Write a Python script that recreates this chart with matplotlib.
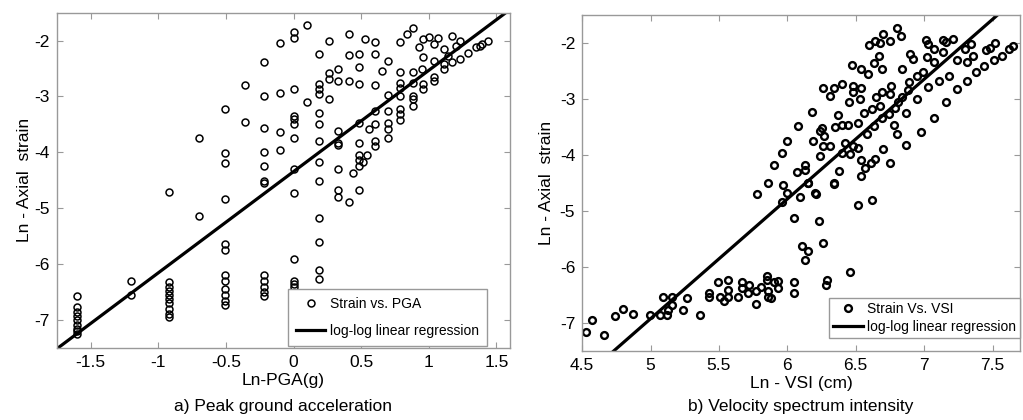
import matplotlib.pyplot as plt
import numpy as np

plt.rcParams['font.family'] = ['Liberation Sans', 'DejaVu Sans']
plt.rcParams['axes.unicode_minus'] = False

# a) Ln-PGA(g) vs Ln axial strain, one line per PGA column
pga_x = [-1.6]*9 + [-1.2]*2 + [-0.92]*10 + [-0.70]*2 + [-0.51]*12 + [-0.36]*2 + [-0.22]*12 + [-0.10]*4 \
    + [0.0]*13 + [0.10]*2 + [0.185]*13 + [0.26]*4 + [0.33]*8 + [0.41]*4 + [0.44] + [0.48]*9 + [0.51, 0.54, 0.53, 0.56] \
    + [0.60]*7 + [0.65] + [0.70]*6 + [0.79]*8 + [0.84] + [0.88]*6 + [0.93] + [0.96]*4 + [0.95, 1.0] \
    + [1.04]*4 + [1.07] + [1.11]*3 + [1.14] + [1.17]*2 + [1.20] + [1.23]*2 + [1.29, 1.35, 1.38, 1.39, 1.44]
pga_y = [-6.57, -6.77, -6.85, -6.92, -7.0, -7.08, -7.15, -7.2, -7.25] \
    + [-6.29, -6.55] \
    + [-4.71, -6.32, -6.4, -6.48, -6.55, -6.62, -6.7, -6.8, -6.88, -6.95] \
    + [-3.74, -5.14] \
    + [-3.23, -4.01, -4.19, -4.83, -5.63, -5.74, -6.2, -6.3, -6.45, -6.55, -6.65, -6.72] \
    + [-2.80, -3.46] \
    + [-2.39, -2.99, -3.56, -3.99, -4.24, -4.51, -4.54, -6.2, -6.3, -6.4, -6.5, -6.57] \
    + [-2.05, -2.93, -3.63, -3.95] \
    + [-1.84, -1.96, -2.87, -3.34, -3.41, -3.50, -3.74, -4.30, -4.73, -5.90, -6.3, -6.35, -6.4] \
    + [-1.73, -3.10] \
    + [-2.24, -2.78, -2.86, -2.96, -3.29, -3.50, -3.80, -4.18, -4.51, -5.18, -5.6, -6.11, -6.26] \
    + [-2.01, -2.58, -2.69, -3.05] \
    + [-2.50, -2.72, -3.62, -3.83, -3.87, -4.30, -4.67, -4.79] \
    + [-1.88, -2.26, -2.72, -4.88] \
    + [-4.36] \
    + [-2.24, -2.48, -2.78, -3.47, -3.84, -4.04, -4.13, -4.25, -4.68] \
    + [-4.18, -4.04, -1.98, -3.58] \
    + [-2.02, -2.24, -2.80, -3.26, -3.50, -3.80, -3.89] \
    + [-2.55] \
    + [-2.36, -2.98, -3.26, -3.47, -3.59, -3.74] \
    + [-2.02, -2.57, -2.75, -2.84, -2.99, -3.23, -3.32, -3.42] \
    + [-1.88] \
    + [-1.78, -2.57, -2.75, -2.99, -3.05, -3.17] \
    + [-2.12] \
    + [-1.98, -2.30, -2.78, -2.87] \
    + [-2.51, -1.94] \
    + [-2.06, -2.36, -2.66, -2.72] \
    + [-1.95] \
    + [-2.15, -2.42, -2.51] \
    + [-2.27] \
    + [-1.92, -2.39] \
    + [-2.09] \
    + [-2.00, -2.33] \
    + [-2.22, -2.12, -2.09, -2.06, -2.00]
pga_fit = [-1.745, 1.57]
pga_fit_y = [-7.5, -1.5]
pga_ticks = ['-1.5', '-1', '-0.5', '0', '0.5', '1', '1.5']

# b) Ln-VSI(cm) vs Ln axial strain
vsi_x = [4.53, 4.57, 4.66, 4.74, 4.80, 4.87, 4.995, 5.07, 5.09, 5.12, 5.13, 5.16, 5.16, 5.24, 5.27, 5.36,
         5.43, 5.43, 5.49, 5.51, 5.54, 5.57, 5.57, 5.57, 5.64, 5.67, 5.67, 5.72, 5.71, 5.77, 5.77,
         5.85, 5.85, 5.86, 5.86, 5.93, 5.93, 5.81, 5.88, 5.90,
         6.05, 6.05, 6.05, 6.23, 6.11, 6.15, 6.13, 6.26, 6.29, 6.28, 6.46, 6.52, 6.62,
         5.78, 5.86, 5.90, 5.96, 5.96, 5.97, 6.00, 6.00, 6.07, 6.13, 6.13, 6.24, 6.40, 6.46, 6.42, 6.48,
         6.52, 6.54, 6.57, 6.61, 6.64, 6.54, 6.34, 6.38, 6.15, 6.09, 6.20,
         6.08, 6.18, 6.37, 6.40, 6.44, 6.35, 6.25, 6.24, 6.27, 6.19, 6.26, 6.31,
         6.40, 6.34, 6.26, 6.31, 6.45, 6.48, 6.48, 6.54, 6.53, 6.56, 6.63, 6.58, 6.52, 6.62, 6.68,
         6.74, 6.69, 6.69, 6.65, 6.76, 6.75, 6.84, 6.81, 6.79, 6.89, 6.88, 6.99, 6.95, 6.75, 6.70,
         6.87, 6.87, 6.80, 6.78, 6.98, 7.07, 7.16, 6.95, 7.03, 7.11, 7.18, 7.24, 7.31, 7.38, 7.44,
         7.51, 7.57, 7.62, 7.65, 7.45, 7.48, 7.52, 7.36, 7.31, 7.30, 7.34, 7.24, 7.21, 7.14, 7.16,
         7.14, 7.07, 7.02, 7.01, 7.03, 7.07, 6.84, 6.90, 6.92, 6.80, 6.83, 6.70, 6.75, 6.64, 6.60,
         6.68, 6.67, 6.63, 6.69, 6.47, 6.54, 6.59, 6.21, 6.15, 6.34]
vsi_y = [-7.15, -6.94, -7.22, -6.88, -6.74, -6.83, -6.86, -6.86, -6.54, -6.86, -6.77, -6.53, -6.68, -6.77, -6.55, -6.86,
         -6.47, -6.53, -6.26, -6.53, -6.61, -6.23, -6.40, -6.53, -6.53, -6.26, -6.38, -6.32, -6.47, -6.42, -6.65,
         -6.16, -6.23, -6.42, -6.53, -6.25, -6.37, -6.36, -6.56, -6.26,
         -6.26, -6.47, -5.12, -5.17, -5.63, -5.72, -5.88, -5.57, -6.23, -6.32, -6.08, -4.89, -4.80,
         -4.69, -4.49, -4.17, -3.97, -4.83, -4.54, -4.68, -3.75, -4.30, -4.26, -4.17, -4.01, -3.97, -3.98, -3.78, -3.84,
         -3.87, -4.08, -4.23, -4.14, -4.07, -4.37, -4.50, -4.29, -4.50, -4.74, -4.68,
         -3.48, -3.23, -3.29, -3.47, -3.47, -3.49, -3.51, -3.57, -3.66, -3.75, -3.84, -3.83,
         -2.73, -2.81, -2.81, -2.94, -3.05, -2.76, -2.88, -2.81, -2.99, -3.24, -3.48, -3.63, -3.42, -3.17, -3.12,
         -3.27, -3.33, -2.87, -2.97, -2.77, -2.91, -2.97, -3.06, -3.15, -2.70, -2.83, -2.52, -2.58, -4.14, -3.89,
         -3.24, -3.82, -3.63, -3.47, -3.59, -3.33, -3.06, -3.00, -2.79, -2.67, -2.59, -2.82, -2.67, -2.52, -2.40,
         -2.31, -2.23, -2.10, -2.06, -2.12, -2.09, -2.00, -2.23, -2.34, -2.10, -2.01, -2.31, -1.92, -1.95, -1.98,
         -2.15, -2.34, -2.25, -1.95, -2.01, -2.10, -2.46, -2.19, -2.28, -1.73, -1.875, -1.83, -1.97, -1.97, -2.04,
         -1.99, -2.23, -2.35, -2.47, -2.39, -2.47, -2.55, -4.69, -4.50, -4.51]
vsi_fit = [4.73, 7.535]
vsi_fit_y = [-7.5, -1.5]
vsi_ticks = ['4.5', '5', '5.5', '6', '6.5', '7', '7.5']

fig = plt.figure(figsize=(10.23, 4.2), dpi=100)
ax1 = fig.add_axes([0.0557, 0.171, 0.4428, 0.799])
ax2 = fig.add_axes([0.569, 0.164, 0.428, 0.800])

ax1.plot(pga_x, pga_y, 'o', mfc='none', mec='black', ms=5.0, mew=1.1, label='Strain vs. PGA')
ax1.plot(pga_fit, pga_fit_y, '-', color='black', lw=2.3, label='log-log linear regression')
ax2.plot(vsi_x, vsi_y, 'o', mfc='none', mec='black', ms=4.9, mew=1.7, label='Strain Vs. VSI')
ax2.plot(vsi_fit, vsi_fit_y, '-', color='black', lw=2.3, label='log-log linear regression')

ax1.set_xlim(-1.75, 1.6)
ax1.set_xticks([-1.5, -1, -0.5, 0, 0.5, 1, 1.5])
ax1.set_xticklabels(pga_ticks)
ax2.set_xlim(4.5, 7.7)
ax2.set_xticks([4.5, 5, 5.5, 6, 6.5, 7, 7.5])
ax2.set_xticklabels(vsi_ticks)
for ax in (ax1, ax2):
    ax.set_ylim(-7.5, -1.5)
    ax.set_yticks([-7, -6, -5, -4, -3, -2])
    ax.tick_params(direction='in', top=True, right=True, length=4, width=0.8,
                   color='#999999', labelsize=12.5, pad=5)
    for s in ax.spines.values():
        s.set_color('#999999')
        s.set_linewidth(1.0)
ax1.set_ylabel('Ln - Axial  strain', fontsize=12.5, labelpad=2)
ax2.set_ylabel('Ln - Axial  strain', fontsize=12.5, labelpad=4)

ax1.set_xlabel('Ln-PGA(g)', fontsize=12.5, labelpad=2)
ax2.set_xlabel('Ln - VSI (cm)', fontsize=12.5, labelpad=2)
fig.text(283 / 1023, 1 - 407 / 420, 'a) Peak ground acceleration', ha='center', va='center', fontsize=12.5)
fig.text(801 / 1023, 1 - 407 / 420, 'b) Velocity spectrum intensity', ha='center', va='center', fontsize=12.5)

leg1 = ax1.legend(loc='lower right', bbox_to_anchor=(0.949, 0.006), fontsize=10,
                  fancybox=False, edgecolor='#999999', framealpha=1, handlelength=2.1,
                  borderpad=0.6, labelspacing=0.9, handletextpad=0.3, borderaxespad=0)
leg1.get_frame().set_linewidth(1.0)
leg2 = ax2.legend(loc='lower right', bbox_to_anchor=(1.0, 0.039), fontsize=10,
                  fancybox=False, edgecolor='#999999', framealpha=1, handlelength=2.1,
                  borderpad=0.3, labelspacing=0.3, handletextpad=0.3, borderaxespad=0)
leg2.get_frame().set_linewidth(1.0)

plt.savefig('out.png', dpi=100)
